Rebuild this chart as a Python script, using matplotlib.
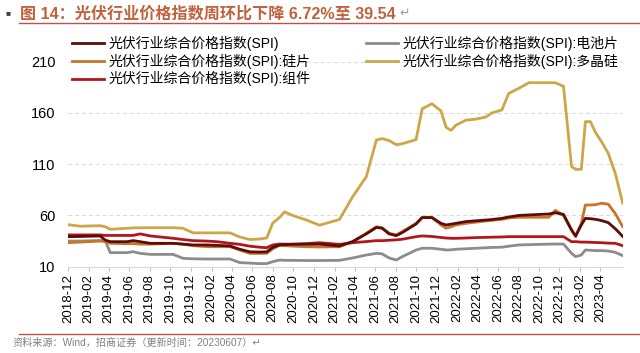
import matplotlib
matplotlib.use("Agg")
import matplotlib.pyplot as plt
import matplotlib.dates as mdates
import pandas as pd

plt.rcParams['font.family'] = ['Liberation Sans', 'Noto Sans CJK SC', 'DejaVu Sans']

# weekly index, sampled at the turning points
dates = [
    "2018-12-01", "2019-01-07", "2019-03-07", "2019-03-22", "2019-04-06", "2019-05-26",
    "2019-06-13", "2019-07-04", "2019-08-03", "2019-10-10", "2019-11-08", "2019-12-08",
    "2020-01-18", "2020-02-17", "2020-03-27", "2020-04-25", "2020-05-25", "2020-06-23",
    "2020-07-14", "2020-08-01", "2020-08-21", "2020-09-05", "2020-09-29", "2020-11-09",
    "2020-12-18", "2021-02-15", "2021-03-26", "2021-05-06", "2021-06-05", "2021-06-22",
    "2021-07-13", "2021-08-03", "2021-08-21", "2021-10-01", "2021-10-19", "2021-11-17",
    "2021-12-14", "2021-12-29", "2022-01-13", "2022-01-27", "2022-02-26", "2022-03-28",
    "2022-04-26", "2022-05-14", "2022-06-13", "2022-07-03", "2022-08-02", "2022-09-01",
    "2022-10-30", "2022-11-19", "2022-12-13", "2023-01-06", "2023-01-18", "2023-02-04",
    "2023-02-16", "2023-03-03", "2023-03-18", "2023-04-05", "2023-04-25", "2023-05-16",
    "2023-06-07",
]

spi = [
    39.3, 39.5, 40, 36, 34.4, 34.4, 35.4, 34.4, 32.8, 32.8, 32, 31.2,
    31.2, 30.8, 30.2, 27, 24.5, 24.3, 24.5, 28.8, 31.2, 31.5, 31.8, 31.9,
    32, 30.2, 34.4, 42, 48.3, 47.5, 42, 40.3, 43.3, 51.7, 57.9, 57.9,
    52.3, 50.7, 51.5, 52.3, 54, 54.8, 55.5, 56, 57.2, 58.5, 60, 60.5,
    61.4, 62.6, 61, 45.8, 40, 50.7, 57.2, 56.8, 56.2, 55, 53, 47,
    39.54,
]
wafer = [
    33.4, 34, 35, 34.5, 32.8, 32.5, 32.5, 32, 32, 32.8, 32, 30.5,
    29.5, 29.5, 29.5, 26.3, 23, 23, 23, 27.5, 30.8, 30.5, 30, 29.5,
    29.2, 29.5, 34.4, 42.6, 49, 48, 42.6, 41, 44.2, 52.3, 58.2, 58.2,
    50.7, 47.5, 49, 50.7, 52.3, 53.5, 54.6, 55.2, 56.2, 57.5, 58.2, 58.2,
    58.2, 65, 60, 45.8, 39.3, 52.3, 70.2, 70.2, 70.5, 71.9, 71, 61.8,
    49,
]
module = [
    41, 41, 41, 40.5, 40.5, 40.5, 40.5, 42, 40, 37.7, 36.5, 35.4,
    35, 34.4, 32.8, 31.8, 30, 29, 28.5, 31.2, 32.1, 32, 32, 32.5,
    33.4, 31.8, 33.4, 34.5, 35.4, 35.4, 35.8, 36.2, 36.8, 39.3, 40, 39.5,
    38.5, 38, 37.7, 37.7, 38, 38.4, 38.6, 38.8, 39, 39.3, 39.3, 39.3,
    39.3, 39.3, 39.3, 34.4, 34.4, 34, 34, 33.8, 33.6, 33.4, 33, 32.8,
    30.5,
]
cell = [
    35, 35, 35.5, 35.5, 23.7, 23.7, 24.6, 23, 22, 22, 18.2, 17.7,
    17.5, 17.5, 17.5, 14, 13.5, 13, 13, 14.9, 16.5, 16.2, 16.2, 16,
    16, 16.2, 18.5, 21.4, 23, 22.5, 18.5, 16.5, 19.8, 26.3, 28, 28,
    27, 26.3, 26.5, 27, 27.5, 28, 28.5, 28.8, 29, 30, 31.2, 31.5,
    32, 32.1, 32.1, 23, 19.8, 21.4, 26.3, 26, 25.7, 25.7, 25.3, 24,
    20.8,
]
poly = [
    51, 49.5, 50, 49, 46.5, 47.5, 47.8, 48, 48, 48, 47.5, 43,
    43, 43, 43, 39, 36.5, 37, 38, 52.5, 58, 63.5, 60, 55.5,
    50.5, 56, 78, 97.8, 133.6, 135, 133, 129, 130, 134, 164, 169,
    162, 146, 143, 148, 153, 154, 156, 160, 163, 179, 184, 189.5,
    189.5, 189.5, 186, 107.6, 105, 105, 151.5, 151.5, 141, 132, 120.6, 101,
    72,
]

name = "光伏行业综合价格指数(SPI)"
labels = [name, name + ":硅片", name + ":组件", name + ":电池片", name + ":多晶硅"]
colors = ["#5E0B0B", "#C8742A", "#B2161C", "#8C8C8C", "#CDA648"]

x = pd.to_datetime(dates)
tick_dates = pd.date_range("2018-12-01", "2023-04-01", freq="2MS")

fig = plt.figure(figsize=(6.4, 3.53), dpi=100)
ax = fig.add_axes([0.106, 0.2445, 0.867, 0.5807])

# draw order: poly at back, spi on top
series = [spi, wafer, module, cell, poly]
zorders = [6, 5, 4, 3, 2]
handles = []
for vals, lab, col, z in zip(series, labels, colors, zorders):
    h, = ax.plot(x, vals, color=col, lw=2.0, label=lab, zorder=z)
    handles.append(h)

ax.set_ylim(10, 210)
ax.set_yticks([10, 60, 110, 160, 210])
ax.set_xlim(x[0], x[-1])
ax.set_xticks(tick_dates)
ax.xaxis.set_major_formatter(mdates.DateFormatter('%Y-%m'))
ax.tick_params(axis='x', rotation=90, labelsize=9.5, length=3, color='#BFBFBF', pad=2)
ax.tick_params(axis='y', labelsize=10.5, length=0, pad=9)

for s in ['top', 'right', 'left']:
    ax.spines[s].set_visible(False)
ax.spines['bottom'].set_color('#D9D9D9')
ax.grid(axis='y', color='#D9D9D9', ls=(0, (4, 3)), lw=0.7)
ax.set_axisbelow(True)

fig.legend(handles=handles, loc='upper left', bbox_to_anchor=(0.113, 0.899),
           ncol=2, frameon=False, fontsize=10, handlelength=2.3, handletextpad=0.3,
           labelspacing=0.2, columnspacing=4.0, borderpad=0, borderaxespad=0)

# report-style header and footer
fig.text(0.008, 0.962, "■", fontsize=6, color='#404040', va='center')
fig.text(0.032, 0.962, "图 14：光伏行业价格指数周环比下降 6.72%至 39.54",
         fontsize=11.6, fontweight='bold', color='#C0623E', va='center')
fig.text(0.624, 0.962, "↵", fontsize=9, color='#A0A0A0', va='center',
         family=['DejaVu Sans'])
fig.add_artist(plt.Line2D([0.03, 1.0], [0.935, 0.935], color='#C0504D', lw=1.0))
fig.add_artist(plt.Line2D([0.03, 1.0], [0.055, 0.055], color='#C0504D', lw=1.0))
fig.text(0.02, 0.028, "资料来源：Wind，招商证券（更新时间：20230607）↵",
         fontsize=7.3, color='#808080', va='center')

fig.savefig("out.png", dpi=100)
